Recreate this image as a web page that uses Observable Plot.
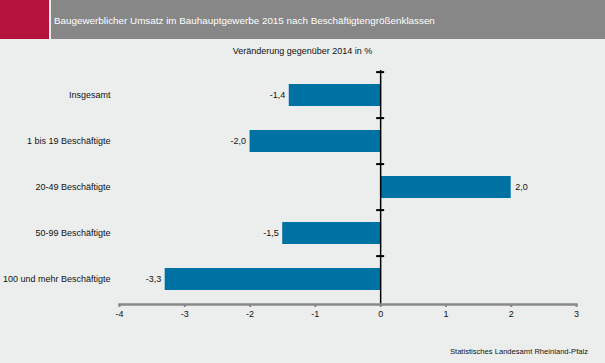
<!DOCTYPE html>
<html>
<head>
<meta charset="utf-8">
<script src="https://cdn.jsdelivr.net/npm/d3@7"></script>
<script src="https://cdn.jsdelivr.net/npm/@observablehq/plot@0.6"></script>
<style>
  html, body { margin: 0; padding: 0; background: #eceeee; font-family: "Liberation Sans", Arial, sans-serif; }
  #wrap { position: relative; width: 605px; height: 363px; overflow: hidden; background: #eceeee; }
  #red { position: absolute; left: 0; top: 0; width: 49px; height: 39px; background: #b5123e; }
  #head { position: absolute; left: 51px; top: 0; width: 554px; height: 39px; background: #878787; }
  #title { position: absolute; left: 54px; top: 1px; height: 39px; line-height: 39px; color: #fff; font-size: 9.85px; white-space: nowrap; }
  #sub { position: absolute; left: 0; width: 605px; top: 46px; text-align: center; font-size: 9px; color: #111; }
  #foot { position: absolute; right: 17px; top: 347px; font-size: 7.6px; color: #111; white-space: nowrap; }
  #chart { position: absolute; left: 0; top: 0; }
</style>
</head>
<body>
<div id="wrap">
  <div id="chart"></div>
  <div id="red"></div>
  <div id="head"></div>
  <div id="title">Baugewerblicher Umsatz im Bauhauptgewerbe 2015 nach Beschäftigtengrößenklassen</div>
  <div id="sub">Veränderung gegenüber 2014 in %</div>
  <div id="foot">Statistisches Landesamt Rheinland-Pfalz</div>
</div>
<script>
const categories = ["Insgesamt", "1 bis 19 Beschäftigte", "20-49 Beschäftigte", "50-99 Beschäftigte", "100 und mehr Beschäftigte"];
const values = [-1.4, -2.0, 2.0, -1.5, -3.3];
const xTicks = [-4, -3, -2, -1, 0, 1, 2, 3];

const data = categories.map((c, i) => ({category: c, value: values[i]}));
const fmt = v => d3.format(".1f")(v).replace(".", ",").replace("−", "-");

const W = 605, H = 363;
const mTop = 70, mBottom = 59;
const yOpts = { domain: categories, paddingInner: 0.52, paddingOuter: 0.26, label: null };
const yScale = Plot.scale({ y: { ...yOpts, range: [mTop, H - mBottom] } });
const bw = yScale.bandwidth;
const step = yScale.step;

const textOpts = { x: "value", y: "category", text: d => fmt(d.value), dy: bw / 2, fontSize: 9, fill: "#111" };

const chart = Plot.plot({
  width: W,
  height: H,
  marginTop: mTop,
  marginBottom: mBottom,
  marginLeft: 119,
  marginRight: 29,
  style: { background: "transparent", fontFamily: "Liberation Sans, Arial, sans-serif", fontSize: "9px", color: "#111" },
  x: { domain: [-4, 3], label: null },
  y: yOpts,
  marks: [
    Plot.barX(data, { x: "value", y: "category", fill: "#0071a3" }),
    Plot.ruleX([0], { stroke: "#000", strokeWidth: 1.5 }),
    Plot.ruleY(categories, { y: d => d, x1: 0, x2: 0, insetLeft: -4, insetRight: -4, dy: -step / 2, stroke: "#000", strokeWidth: 2 }),
    Plot.frame({ anchor: "bottom", stroke: "#888", strokeWidth: 2.5 }),
    Plot.axisX({ ticks: xTicks, tickSize: 3, stroke: "#888", strokeWidth: 2, tickPadding: 3, tickFormat: d => String(d), fontSize: 9, fill: "#111" }),
    Plot.axisY({ tickSize: 0, tickPadding: 9, fontSize: 9, fill: "#111" }),
    Plot.text(data.filter(d => d.value < 0), { ...textOpts, textAnchor: "end", dx: -4 }),
    Plot.text(data.filter(d => d.value >= 0), { ...textOpts, textAnchor: "start", dx: 4 })
  ]
});
document.getElementById("chart").appendChild(chart);
</script>
</body>
</html>
